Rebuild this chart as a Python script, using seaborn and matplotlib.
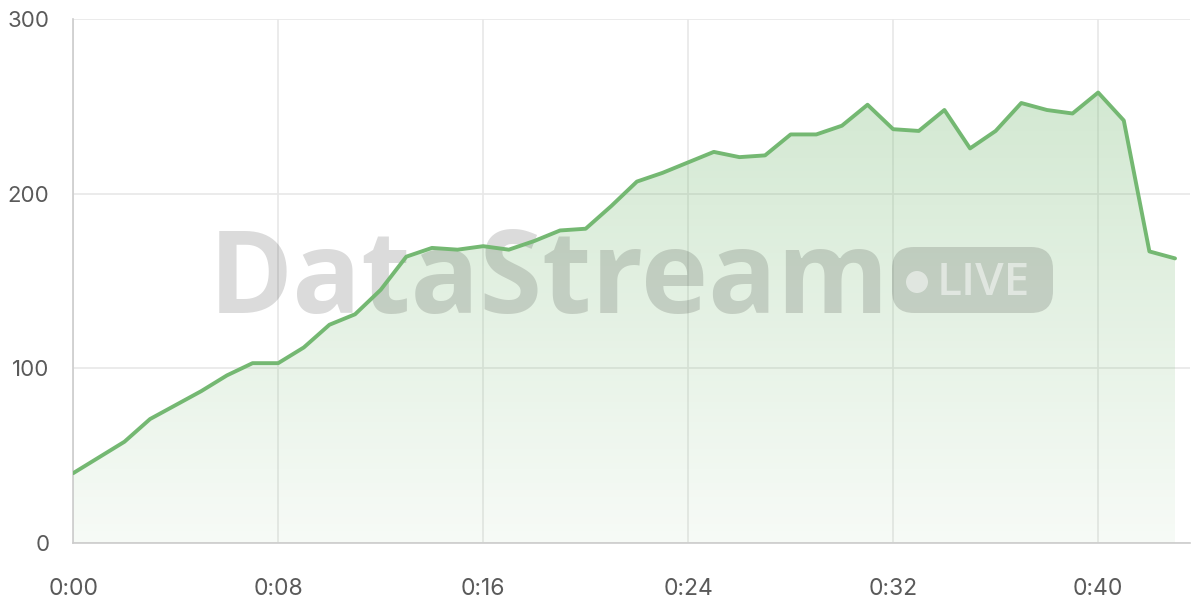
import numpy as np
import pandas as pd
import matplotlib.pyplot as plt
import seaborn as sns
from matplotlib.colors import LinearSegmentedColormap
from matplotlib.patches import FancyBboxPatch, Circle
from matplotlib.ticker import FuncFormatter

# %% Data (one value per minute)
minutes = list(range(44))
values = [40, 49, 58, 71, 79, 87, 96, 103, 103, 112, 125, 131, 145, 164, 169,
          168, 170, 168, 173, 179, 180, 193, 207, 212, 218, 224, 221, 222, 234,
          234, 239, 251, 237, 236, 248, 226, 236, 252, 248, 246, 258, 242, 167, 163]
x_ticks = [0, 8, 16, 24, 32, 40]
y_ticks = [0, 100, 200, 300]

df = pd.DataFrame({'minute': minutes, 'value': values})

# %% Style
sns.set_style("white")
plt.rcParams['font.family'] = ['Inter', 'DejaVu Sans']

line_col = '#74b872'
grid_col = '#e8e8e8'
text_col = '#5a5a5a'

fig = plt.figure(figsize=(12, 6), dpi=100)
ax = fig.add_axes([0.061, 0.095, 0.931, 0.873])
px = fig.dpi_scale_trans  # inches from bottom-left (100 px per inch)

# Gradient fill under the line
cmap = LinearSegmentedColormap.from_list(
    'grad', [(0.455, 0.722, 0.447, 0.06), (0.455, 0.722, 0.447, 0.32)])
poly = ax.fill_between(df['minute'], 0, df['value'], color='none', lw=0)
grad = np.linspace(0, 1, 256).reshape(-1, 1)
img = ax.imshow(grad, cmap=cmap, aspect='auto', origin='lower',
                extent=[0, max(minutes), 0, max(values)], zorder=1)
img.set_clip_path(poly.get_paths()[0], transform=ax.transData)

# Line
sns.lineplot(x='minute', y='value', data=df, color=line_col, lw=2.8, ax=ax, zorder=4)

# Watermark
ax.text(2.09, 2.87, 'DataStream', transform=px, ha='left', va='baseline',
        fontsize=82, fontweight='bold', family=['Open Sans', 'DejaVu Sans'],
        color='black', alpha=0.14, zorder=3)
pill = FancyBboxPatch((8.92, 2.87), 1.61, 0.66, transform=px,
                      boxstyle='round,pad=0,rounding_size=0.22', fc='black',
                      ec='none', alpha=0.14, zorder=3)
ax.add_patch(pill)
ax.add_patch(Circle((9.17, 3.18), 0.11, transform=px, fc='white',
                    ec='none', alpha=0.5, zorder=3))
ax.text(9.37, 3.05, 'LIVE', transform=px, ha='left', va='baseline',
        fontsize=33, fontweight='semibold', family=['Open Sans', 'DejaVu Sans'],
        color='white', alpha=0.5, zorder=3)

# Axes
ax.set_xlim(0, 43.6)
ax.set_ylim(0, 300)
ax.set_xticks(x_ticks)
ax.set_yticks(y_ticks)
ax.xaxis.set_major_formatter(FuncFormatter(lambda v, p: f"{int(v) // 60}:{int(v) % 60:02d}"))
ax.set_xlabel('')
ax.set_ylabel('')
ax.grid(True, color=grid_col, lw=1.2)
ax.set_axisbelow(True)

sns.despine(ax=ax, top=True, right=True)
for s in ['left', 'bottom']:
    ax.spines[s].set_color('#cccccc')
    ax.spines[s].set_linewidth(1.2)

ax.tick_params(axis='x', length=15, width=1.2, color=grid_col, pad=10,
               labelsize=16.5, labelcolor=text_col)
ax.tick_params(axis='y', length=11, width=1.2, color=grid_col, pad=6,
               labelsize=16, labelcolor=text_col)

fig.savefig('out.png', dpi=100)
